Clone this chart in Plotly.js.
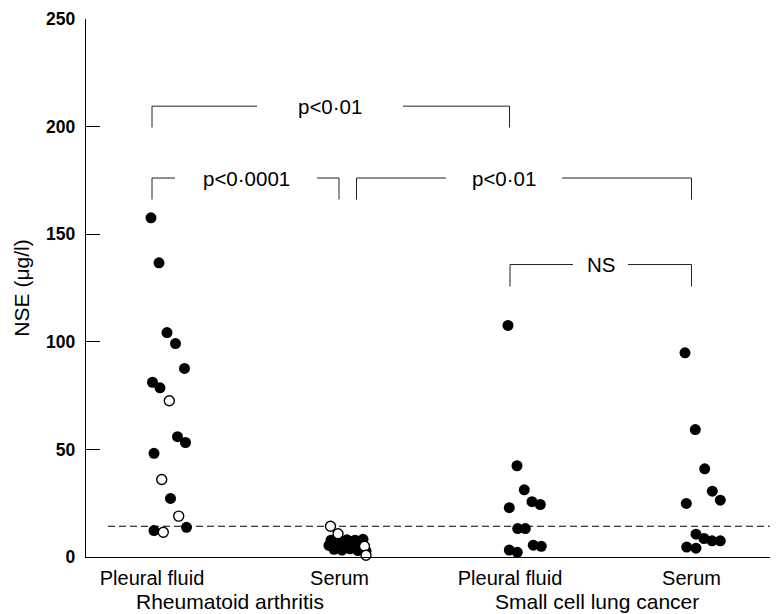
<!DOCTYPE html>
<html><head><meta charset="utf-8">
<script src="https://cdn.plot.ly/plotly-3.0.1.min.js"></script>
<style>html,body{margin:0;padding:0;background:#fff}#chart{width:782px;height:614px}</style>
</head><body><div id="chart"></div>
<script>
// ---- data ----
const groupPos = [152, 339.5, 510, 691.5];
const categoryLabels = ["Pleural fluid", "Serum", "Pleural fluid", "Serum"];
const groupLabels = ["Rheumatoid arthritis", "Small cell lung cancer"];
const groupLabelPos = [230, 597];
const yTickVals = [0, 50, 100, 150, 200, 250];

// Rheumatoid arthritis – pleural fluid
const raPleuralFilledX = [151, 159, 167, 175.5, 184.5, 152.5, 160, 177.5, 185.5, 154, 170.5, 186.5, 154];
const raPleuralFilledY = [157.6, 136.7, 104.3, 99.2, 87.6, 81.2, 78.6, 55.9, 53.2, 48.2, 27.2, 13.8, 12.3];
const raPleuralOpenX = [169.3, 161.7, 178.7, 163.3];
const raPleuralOpenY = [72.6, 36.0, 19.0, 11.5];

// Rheumatoid arthritis – serum
const raSerumFilledX = [331, 339, 347, 355, 363, 329, 337, 345, 353, 361, 334, 342, 350, 358, 366, 333, 349];
const raSerumFilledY = [7.8, 8.3, 8.0, 7.8, 8.2, 5.4, 5.6, 5.2, 5.5, 5.0, 3.6, 3.2, 3.8, 3.0, 2.8, 6.6, 6.8];
const raSerumOpenX = [330.5, 338, 364.5, 366];
const raSerumOpenY = [14.3, 10.8, 5.0, 0.8];

// Small cell lung cancer – pleural fluid
const scPleuralX = [508, 517, 524.3, 532, 540.3, 509.3, 517.7, 525.3, 533.3, 541.3, 509.3, 517.3];
const scPleuralY = [107.6, 42.4, 31.2, 25.7, 24.4, 22.9, 13.2, 13.2, 5.5, 5.0, 3.2, 2.2];

// Small cell lung cancer – serum
const scSerumX = [685, 695.3, 704.7, 712.3, 720.3, 686.3, 696, 704, 712, 720.3, 686.7, 696];
const scSerumY = [94.9, 59.2, 41.0, 30.6, 26.4, 24.9, 10.6, 8.6, 7.5, 7.5, 4.6, 4.1];

// reference (cut-off) line
const cutoffValue = 14.3;
const cutoffXStart = 108, cutoffXEnd = 770;

// significance brackets
const bracketLabels = ["p<0·01", "p<0·0001", "p<0·01", "NS"];
const bracketLeft = [152, 152, 356.5, 510];
const bracketRight = [509.5, 339, 691.5, 691.5];
const bracketTop = [209.5, 176.1, 176.1, 135.9];
const bracketLegEnd = [199.6, 166.1, 166.1, 125.7];
const bracketGapLeft = [257, 175, 446, 573];
const bracketGapRight = [403, 317, 562, 628];

// ---- traces ----
const FONT = "Liberation Sans, Arial, Helvetica, sans-serif";
const filledMarker = {size: 11, color: "#000", line: {color: "#000", width: 0}};
const openMarker = {size: 10, color: "#fff", line: {color: "#000", width: 1.4}};

const traces = [];
// cutoff line
traces.push({x: [cutoffXStart, cutoffXEnd], y: [cutoffValue, cutoffValue], mode: "lines",
  line: {color: "#000", width: 1.2, dash: "7px,4px"}, hoverinfo: "skip", showlegend: false});

// brackets
bracketLabels.forEach((lab, i) => {
  const xs = [bracketLeft[i], bracketLeft[i], bracketGapLeft[i], null, bracketGapRight[i], bracketRight[i], bracketRight[i]];
  const ys = [bracketLegEnd[i], bracketTop[i], bracketTop[i], null, bracketTop[i], bracketTop[i], bracketLegEnd[i]];
  traces.push({x: xs, y: ys, mode: "lines", line: {color: "#222", width: 1},
    hoverinfo: "skip", showlegend: false, connectgaps: false});
});

traces.push({x: raPleuralFilledX, y: raPleuralFilledY, mode: "markers", marker: filledMarker, showlegend: false});
traces.push({x: raSerumFilledX, y: raSerumFilledY, mode: "markers", marker: filledMarker, showlegend: false});
traces.push({x: scPleuralX, y: scPleuralY, mode: "markers", marker: filledMarker, showlegend: false});
traces.push({x: scSerumX, y: scSerumY, mode: "markers", marker: filledMarker, showlegend: false});
traces.push({x: raPleuralOpenX, y: raPleuralOpenY, mode: "markers", marker: openMarker, showlegend: false});
traces.push({x: raSerumOpenX, y: raSerumOpenY, mode: "markers", marker: openMarker, showlegend: false, cliponaxis: false});

// ---- annotations ----
const annotations = [];
bracketLabels.forEach((lab, i) => {
  annotations.push({x: (bracketGapLeft[i] + bracketGapRight[i]) / 2, y: bracketTop[i], xref: "x", yref: "y",
    text: lab, showarrow: false, xanchor: "center", yanchor: "middle",
    font: {family: FONT, size: 20.5, color: "#000"}});
});
groupLabels.forEach((lab, i) => {
  annotations.push({x: groupLabelPos[i], y: 0, xref: "x", yref: "paper", yshift: -44,
    text: lab, showarrow: false, xanchor: "center", yanchor: "middle",
    font: {family: FONT, size: 21, color: "#000"}});
});

const layout = {
  width: 782, height: 614,
  margin: {l: 86, r: 12, t: 19, b: 57},
  paper_bgcolor: "#fff", plot_bgcolor: "#fff",
  font: {family: FONT, color: "#000"},
  xaxis: {range: [86, 770], showline: true, linecolor: "#000", linewidth: 1.2,
    showgrid: false, zeroline: false, ticks: "",
    tickmode: "array", tickvals: groupPos, ticktext: categoryLabels,
    tickfont: {family: FONT, size: 20, color: "#000"}, ticklabelstandoff: 3},
  yaxis: {range: [0, 250], showline: true, linecolor: "#000", linewidth: 1.2,
    showgrid: false, zeroline: false, ticks: "inside", ticklen: 14, tickwidth: 1.2, tickcolor: "#000",
    tickmode: "array", tickvals: yTickVals,
    tickfont: {family: FONT, size: 17.5, color: "#000", weight: "bold"}, ticklabelstandoff: 6,
    title: {text: "NSE (μg/l)", font: {family: FONT, size: 21, color: "#000"}, standoff: 10}},
  annotations: annotations,
  showlegend: false
};

Plotly.newPlot("chart", traces, layout, {staticPlot: true, displayModeBar: false});
</script></body></html>
